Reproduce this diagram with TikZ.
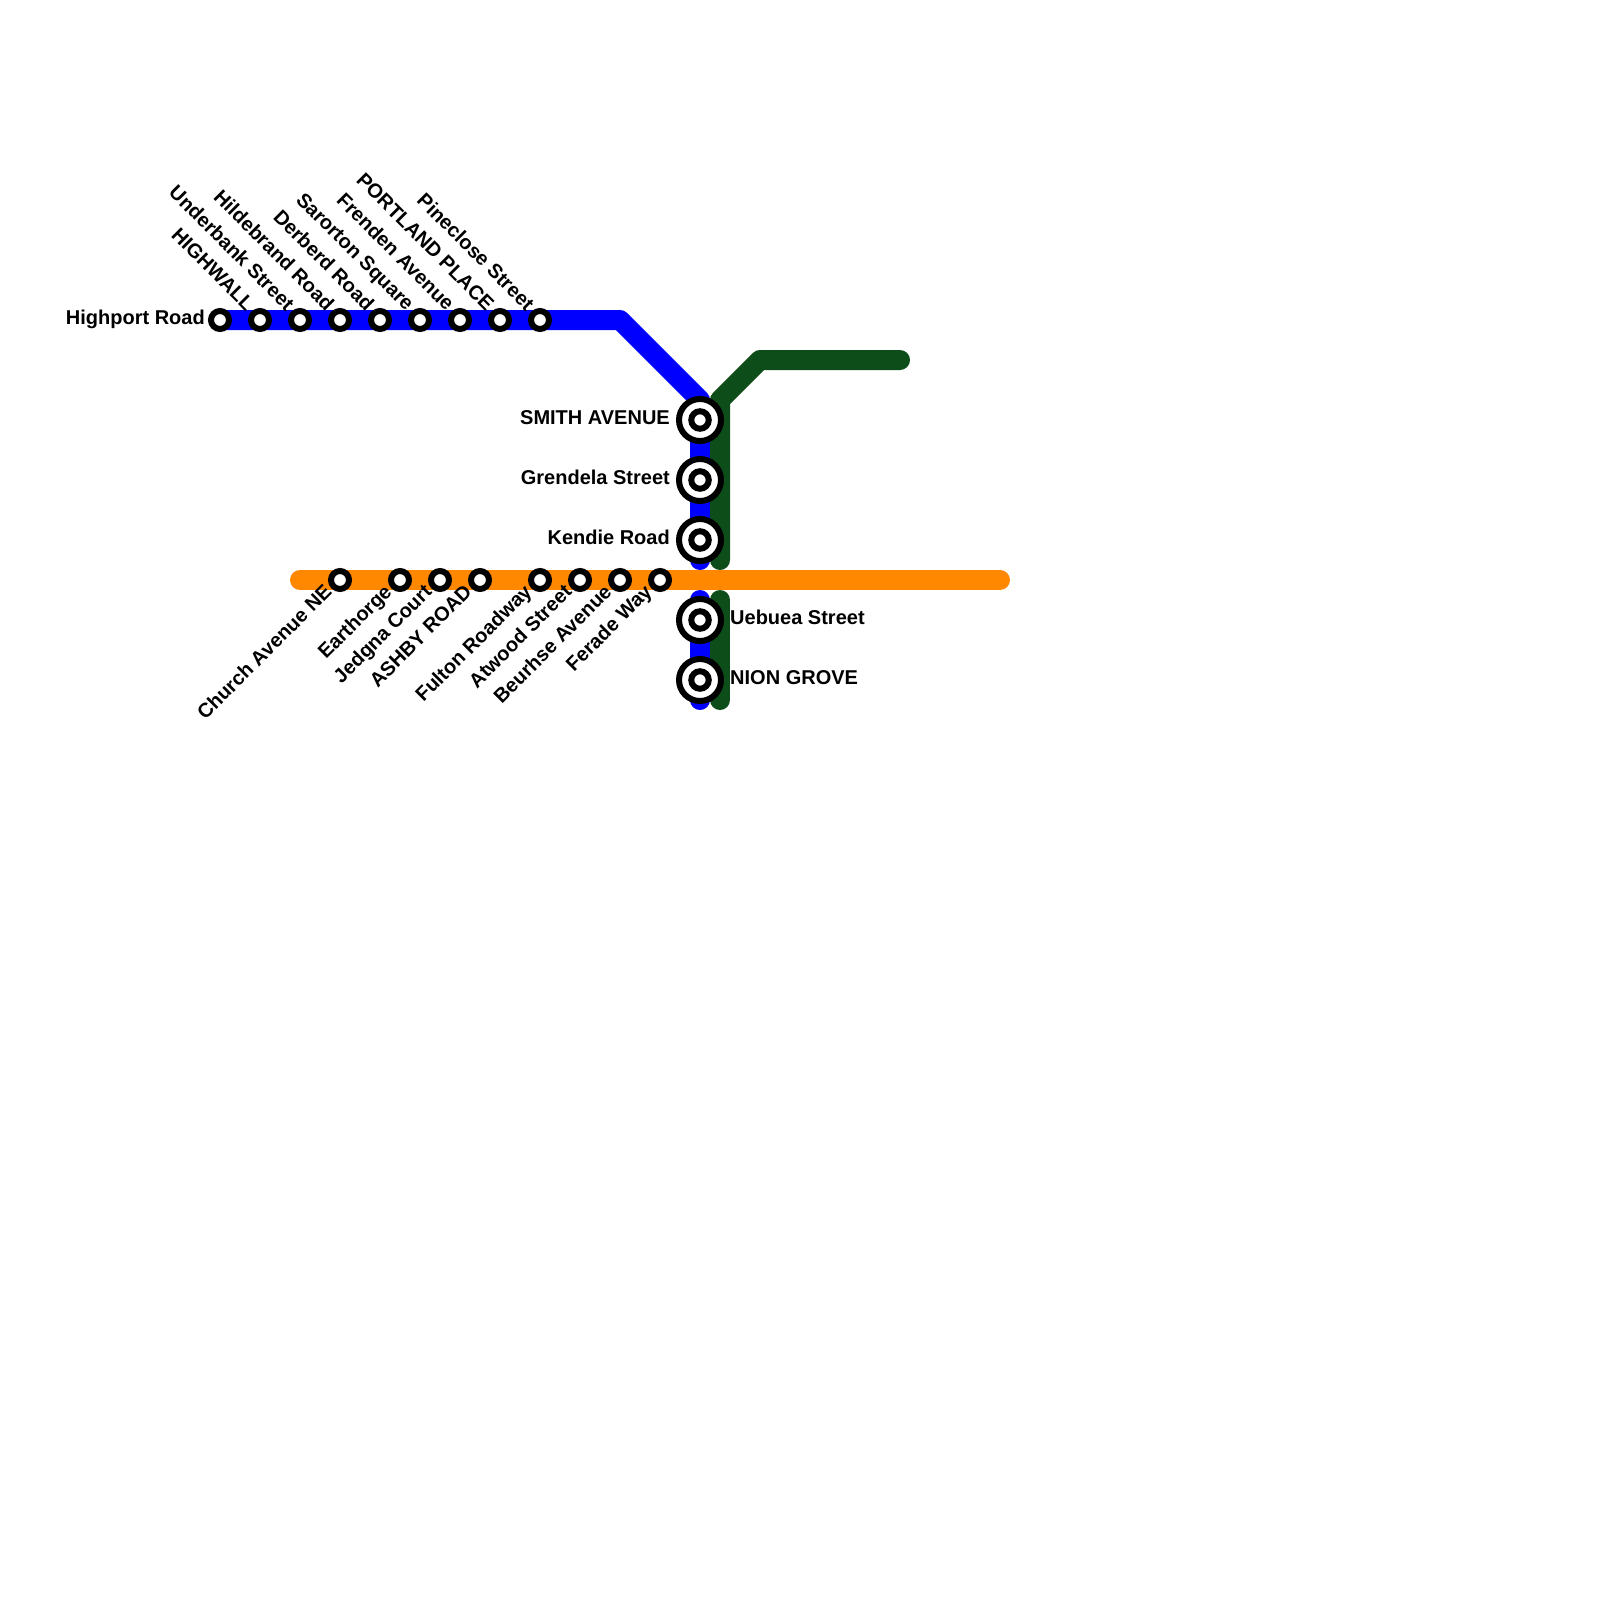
\documentclass[tikz,border=0pt]{standalone}
\usepackage{fontspec}
\setmainfont{Liberation Sans}
\tikzset{
  route/.style={line width=20pt,line cap=round,line join=round},
  stop/.style={circle,draw=black,fill=white,line width=6pt,inner sep=0pt,outer sep=0pt,minimum size=18pt},
  hubring/.style={circle,draw=black,fill=white,line width=6pt,inner sep=0pt,outer sep=0pt,minimum size=42pt},
  hubcore/.style={circle,draw=black,fill=white,line width=6pt,inner sep=0pt,outer sep=0pt,minimum size=17.5pt},
  lab/.style={font=\bfseries\fontsize{20}{20}\selectfont,text=black,inner sep=0pt},
  upl/.style={lab,anchor=base east,rotate=-45},
  dnl/.style={lab,anchor=base east,rotate=45},
  leftl/.style={lab,anchor=base east},
  rightl/.style={lab,anchor=base west}
}
\definecolor{lineblue}{RGB}{0,0,255}
\definecolor{linegreen}{RGB}{13,77,25}
\definecolor{lineorange}{RGB}{255,136,0}
\begin{document}
\begin{tikzpicture}[x=1pt,y=-1pt]
\useasboundingbox (0,0) rectangle (1600,1600);
% route coordinates
\coordinate (b0) at (220,320);
\coordinate (b1) at (620,320);
\coordinate (b2) at (700,400);
\coordinate (b3) at (700,560);
\coordinate (b4) at (700,600);
\coordinate (b5) at (700,700);
\coordinate (g0) at (900,360);
\coordinate (g1) at (760,360);
\coordinate (g2) at (720,400);
\coordinate (g3) at (720,560);
\coordinate (g4) at (720,600);
\coordinate (g5) at (720,700);
\coordinate (o0) at (300,580);
\coordinate (o1) at (1000,580);
% routes
\draw[route,lineblue] (b0) -- (b1) -- (b2) -- (b3);
\draw[route,lineblue] (b4) -- (b5);
\draw[route,linegreen] (g0) -- (g1) -- (g2) -- (g3);
\draw[route,linegreen] (g4) -- (g5);
\draw[route,lineorange] (o0) -- (o1);
% top stations
\foreach \n/\x in {t1/220,t2/260,t3/300,t4/340,t5/380,t6/420,t7/460,t8/500,t9/540}
  \node[stop] (\n) at (\x,320) {};
% orange stations
\foreach \n/\x in {m1/340,m2/400,m3/440,m4/480,m5/540,m6/580,m7/620,m8/660}
  \node[stop] (\n) at (\x,580) {};
% interchanges
\foreach \n/\y in {h1/420,h2/480,h3/540,h4/620,h5/680}{
  \node[hubring] (\n) at (700,\y) {};
  \node[hubcore] (\n i) at (700,\y) {};
}
% labels
\node[leftl] (l1) at ([xshift=-15pt,yshift=-4.7pt]t1.center) {Highport Road};
\node[upl] (l2) at ([xshift=-14pt,yshift=8pt]t2.center) {HIGHWALL};
\node[upl] (l3) at ([xshift=-14pt,yshift=8pt]t3.center) {Underbank Street};
\node[upl] (l4) at ([xshift=-14pt,yshift=8pt]t4.center) {Hildebrand Road};
\node[upl] (l5) at ([xshift=-14pt,yshift=8pt]t5.center) {Derberd Road};
\node[upl] (l6) at ([xshift=-14pt,yshift=8pt]t6.center) {Sarorton Square};
\node[upl] (l7) at ([xshift=-14pt,yshift=8pt]t7.center) {Frenden Avenue};
\node[upl] (l8) at ([xshift=-14pt,yshift=8pt]t8.center) {PORTLAND PLACE};
\node[upl] (l9) at ([xshift=-14pt,yshift=8pt]t9.center) {Pineclose Street};
\node[dnl] (d1) at ([xshift=-7pt,yshift=-13pt]m1.center) {Church Avenue NE};
\node[dnl] (d2) at ([xshift=-7pt,yshift=-13pt]m2.center) {Earthorge};
\node[dnl] (d3) at ([xshift=-7pt,yshift=-13pt]m3.center) {Jedgna Court};
\node[dnl] (d4) at ([xshift=-7pt,yshift=-13pt]m4.center) {ASHBY ROAD};
\node[dnl] (d5) at ([xshift=-7pt,yshift=-13pt]m5.center) {Fulton Roadway};
\node[dnl] (d6) at ([xshift=-7pt,yshift=-13pt]m6.center) {Atwood Street};
\node[dnl] (d7) at ([xshift=-7pt,yshift=-13pt]m7.center) {Beurhse Avenue};
\node[dnl] (d8) at ([xshift=-7pt,yshift=-13pt]m8.center) {Ferade Way};
\node[leftl] (s1) at ([xshift=-30pt,yshift=-4.7pt]h1.center) {SMITH AVENUE};
\node[leftl] (s2) at ([xshift=-30pt,yshift=-4.7pt]h2.center) {Grendela Street};
\node[leftl] (s3) at ([xshift=-30pt,yshift=-4.7pt]h3.center) {Kendie Road};
\node[rightl] (s4) at ([xshift=30pt,yshift=-4.7pt]h4.center) {Uebuea Street};
\node[rightl] (s5) at ([xshift=30pt,yshift=-4.7pt]h5.center) {NION GROVE};
\end{tikzpicture}
\end{document}
